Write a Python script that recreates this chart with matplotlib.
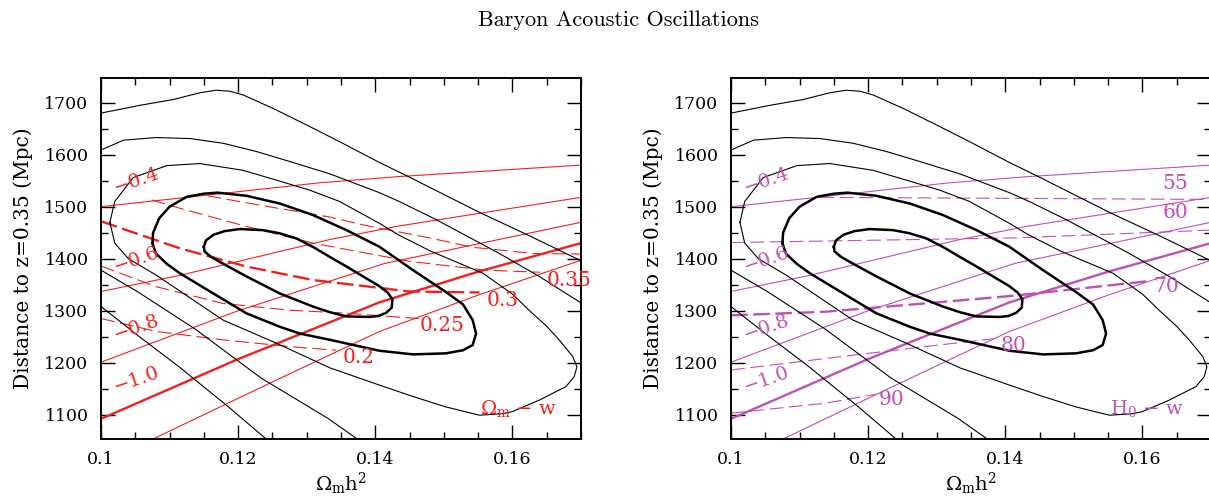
import matplotlib
matplotlib.use("Agg")
import matplotlib.pyplot as plt
from matplotlib.ticker import MultipleLocator

plt.rcParams.update({
    "font.family": "DejaVu Serif",
    "mathtext.fontset": "dejavuserif",
    "lines.scale_dashes": False,
    "axes.unicode_minus": True,
})

# ---- likelihood contours (Omega_m h^2, D_V) -------------------------------
c1_x = [0.1150, 0.1153, 0.1164, 0.1180, 0.1202, 0.1236, 0.1260, 0.1285, 0.1310,
        0.1333, 0.1358, 0.1382, 0.1405, 0.1418, 0.1425, 0.1424, 0.1416, 0.1405,
        0.1392, 0.1358, 0.1334, 0.1309, 0.1261, 0.1212, 0.1173, 0.1160, 0.1151,
        0.1150]
c1_y = [1423, 1435, 1446, 1453, 1457, 1455, 1449, 1439, 1422,
        1404, 1385, 1366, 1348, 1335, 1322, 1306, 1296, 1290,
        1288, 1289, 1297, 1308, 1333, 1366, 1394, 1404, 1414,
        1423]

c2_x = [0.1075, 0.1076, 0.1085, 0.1100, 0.1125, 0.1150, 0.1170, 0.1212, 0.1261,
        0.1309, 0.1358, 0.1406, 0.1455, 0.1503, 0.1528, 0.1542, 0.1547, 0.1542,
        0.1528, 0.1503, 0.1455, 0.1406, 0.1334, 0.1290, 0.1261, 0.1212, 0.1164,
        0.1115, 0.1096, 0.1080, 0.1075]
c2_y = [1430, 1450, 1478, 1500, 1519, 1525, 1527, 1521, 1506,
        1484, 1455, 1423, 1378, 1336, 1312, 1282, 1256, 1234,
        1224, 1218, 1216, 1223, 1244, 1256, 1269, 1295, 1333,
        1372, 1390, 1410, 1430]

c3_x = [0.1013, 0.1020, 0.1047, 0.1096, 0.1144, 0.1207, 0.1256, 0.1304, 0.1348,
        0.1406, 0.1435, 0.1480, 0.1557, 0.1600, 0.1625, 0.1650, 0.1668, 0.1688,
        0.1694, 0.1690, 0.1678, 0.1639, 0.1600, 0.1586, 0.1552, 0.1503, 0.1455,
        0.1406, 0.1334, 0.1255, 0.1178, 0.1081, 0.1040, 0.1020, 0.1013]
c3_y = [1470, 1510, 1556, 1579, 1583, 1570, 1551, 1532, 1510,
        1468, 1445, 1415, 1372, 1332, 1300, 1270, 1244, 1212,
        1192, 1173, 1154, 1128, 1106, 1102, 1099, 1115, 1135,
        1157, 1190, 1238, 1282, 1368, 1400, 1430, 1470]

c4u_x = [0.1000, 0.1033, 0.1081, 0.1130, 0.1178, 0.1227, 0.1275, 0.1334, 0.1406,
         0.1435, 0.1489, 0.1581, 0.1639, 0.1700]
c4u_y = [1609, 1628, 1633, 1631, 1622, 1606, 1587, 1563, 1527,
         1510, 1475, 1410, 1366, 1315]
c4l_x = [0.1000, 0.1054, 0.1137, 0.1234, 0.1331, 0.1374]
c4l_y = [1378, 1336, 1265, 1170, 1093, 1053]

c5u_x = [0.1000, 0.1057, 0.1105, 0.1144, 0.1168, 0.1188, 0.1207, 0.1251, 0.1300,
         0.1348, 0.1406, 0.1445, 0.1552, 0.1625, 0.1700]
c5u_y = [1680, 1695, 1706, 1719, 1724, 1722, 1715, 1689, 1657,
         1625, 1585, 1560, 1489, 1444, 1396]
c5l_x = [0.1000, 0.1054, 0.1113, 0.1185, 0.1241]
c5l_y = [1308, 1252, 1193, 1116, 1053]

thick_contours = [(c1_x, c1_y), (c2_x, c2_y)]
thin_contours = [(c3_x, c3_y), (c4u_x, c4u_y), (c4l_x, c4l_y),
                 (c5u_x, c5u_y), (c5l_x, c5l_y)]

# ---- lines of constant w (same in both panels) ----------------------------
w_values = ["\u22120.4", "\u22120.6", "\u22120.8", "\u22121.0"]
w_x = [
    [0.1000, 0.1319, 0.1435, 0.1700],
    [0.1000, 0.1115, 0.1334, 0.1435, 0.1700],
    [0.1000, 0.1200, 0.1414, 0.1700],
    [0.1000, 0.1200, 0.1406, 0.1550, 0.1700],
    [0.1077, 0.1250, 0.1406, 0.1550, 0.1700],
]
w_y = [
    [1500, 1546, 1558, 1580],
    [1337, 1368, 1437, 1463, 1518],
    [1201, 1300, 1391, 1470],
    [1092, 1207, 1316, 1375, 1430],
    [1054, 1163, 1260, 1330, 1397],
]
w_thick = [False, False, False, True, False]
w_label_x = [0.1052, 0.1052, 0.1052, 0.1052]
w_label_y = [1550, 1398, 1268, 1167]

# ---- lines of constant Omega_m (left panel) -------------------------------
om_labels = ["0.2", "0.25", "0.3", "0.35"]
om_x = [
    [0.1000, 0.1081, 0.1178, 0.1275, 0.1343],
    [0.1000, 0.1081, 0.1178, 0.1275, 0.1348, 0.1463],
    [0.1000, 0.1057, 0.1115, 0.1212, 0.1309, 0.1450, 0.1552],
    [0.1074, 0.1115, 0.1212, 0.1309, 0.1450, 0.1560, 0.1640],
    [0.1155, 0.1231, 0.1290, 0.1334, 0.1382, 0.1479, 0.1542, 0.1630, 0.1700],
]
om_y = [
    [1285, 1260, 1244, 1231, 1224],
    [1386, 1346, 1314, 1301, 1296, 1285],
    [1472, 1446, 1420, 1385, 1359, 1337, 1335],
    [1513, 1497, 1462, 1430, 1395, 1378, 1374],
    [1521, 1503, 1490, 1480, 1465, 1440, 1422, 1410, 1409],
]
om_thick = [False, False, True, False, False]
om_label_x = [0.1376, 0.1498, 0.1586, 0.1682]
om_label_y = [1210, 1271, 1320, 1359]

# ---- lines of constant H0 (right panel) -----------------------------------
h0_labels = ["55", "60", "70", "80", "90"]
h0_x = [
    [0.1130, 0.1700],
    [0.1000, 0.1414, 0.1700],
    [0.1000, 0.1137, 0.1283, 0.1414, 0.1610],
    [0.1000, 0.1137, 0.1283, 0.1389],
    [0.1000, 0.1137, 0.1210],
]
h0_y = [
    [1518, 1514],
    [1431, 1440, 1455],
    [1291, 1298, 1314, 1329, 1357],
    [1186, 1208, 1231, 1247],
    [1103, 1122, 1139],
]
h0_thick = [False, False, True, False, False]
h0_label_x = [0.1648, 0.1648, 0.1635, 0.1412, 0.1234]
h0_label_y = [1545, 1488, 1346, 1234, 1130]

RED = "#f02020"
MAGENTA = "#c050b4"
W, H = 1209, 497


def draw_panel(ax, color, dx, dy, dthick, dlabels, lx, ly, corner):
    for cx, cy in thin_contours:
        ax.plot(cx, cy, color="k", lw=0.8, zorder=3)
    for cx, cy in thick_contours:
        ax.plot(cx, cy, color="k", lw=1.8, zorder=3)

    for xs, ys, thick in zip(w_x, w_y, w_thick):
        ax.plot(xs, ys, color=color, lw=1.7 if thick else 0.8, zorder=2)
    for lab, x, y in zip(w_values, w_label_x, w_label_y):
        ax.text(x, y, lab, color=color, fontsize=14, rotation=19,
                ha="center", va="center", zorder=4)

    for xs, ys, thick in zip(dx, dy, dthick):
        if thick:
            ax.plot(xs, ys, color=color, lw=1.7, dashes=(12, 4), zorder=2)
        else:
            ax.plot(xs, ys, color=color, lw=0.8, dashes=(10, 4), zorder=2)
    for lab, x, y in zip(dlabels, lx, ly):
        ax.text(x, y, lab, color=color, fontsize=14.5, ha="center",
                va="center", clip_on=False, zorder=4)

    ax.text(0.1552, 1112, corner, color=color, fontsize=14, ha="left",
            va="center", zorder=4)

    ax.set_xlim(0.1, 0.17)
    ax.set_ylim(1053.3, 1746.9)
    ax.xaxis.set_major_locator(MultipleLocator(0.02))
    ax.xaxis.set_minor_locator(MultipleLocator(0.005))
    ax.yaxis.set_major_locator(MultipleLocator(100))
    ax.yaxis.set_minor_locator(MultipleLocator(50))
    ax.set_xticks([0.1, 0.12, 0.14, 0.16])
    ax.set_xticklabels(["0.1", "0.12", "0.14", "0.16"])
    ax.tick_params(which="both", direction="in", top=True, right=True,
                   width=1.0, labelsize=12.5, pad=9)
    ax.tick_params(which="major", length=10)
    ax.tick_params(which="minor", length=4.7)
    for sp in ax.spines.values():
        sp.set_linewidth(1.4)
    ax.set_xlabel(r"$\Omega_{\rm m}{\rm h}^2$", fontsize=14, labelpad=2)
    ax.set_ylabel("Distance to z=0.35 (Mpc)", fontsize=14.5, labelpad=8)


fig = plt.figure(figsize=(W / 100, H / 100), dpi=100)
axl = fig.add_axes([101 / W, 58 / H, 480 / W, 360.7 / H])
axr = fig.add_axes([731 / W, 58 / H, 480 / W, 360.7 / H])

draw_panel(axl, RED, om_x, om_y, om_thick, om_labels, om_label_x,
           om_label_y, r"$\Omega_{\rm m}$ $\mathrm{-\ w}$")
draw_panel(axr, MAGENTA, h0_x, h0_y, h0_thick, h0_labels, h0_label_x,
           h0_label_y, r"$\mathrm{H_0}$ $\mathrm{-\ w}$")

fig.text(618 / W, 1 - 20 / H, "Baryon Acoustic Oscillations",
         family="cmr10", fontsize=16, ha="center", va="center")

fig.savefig("out.png", dpi=100)
